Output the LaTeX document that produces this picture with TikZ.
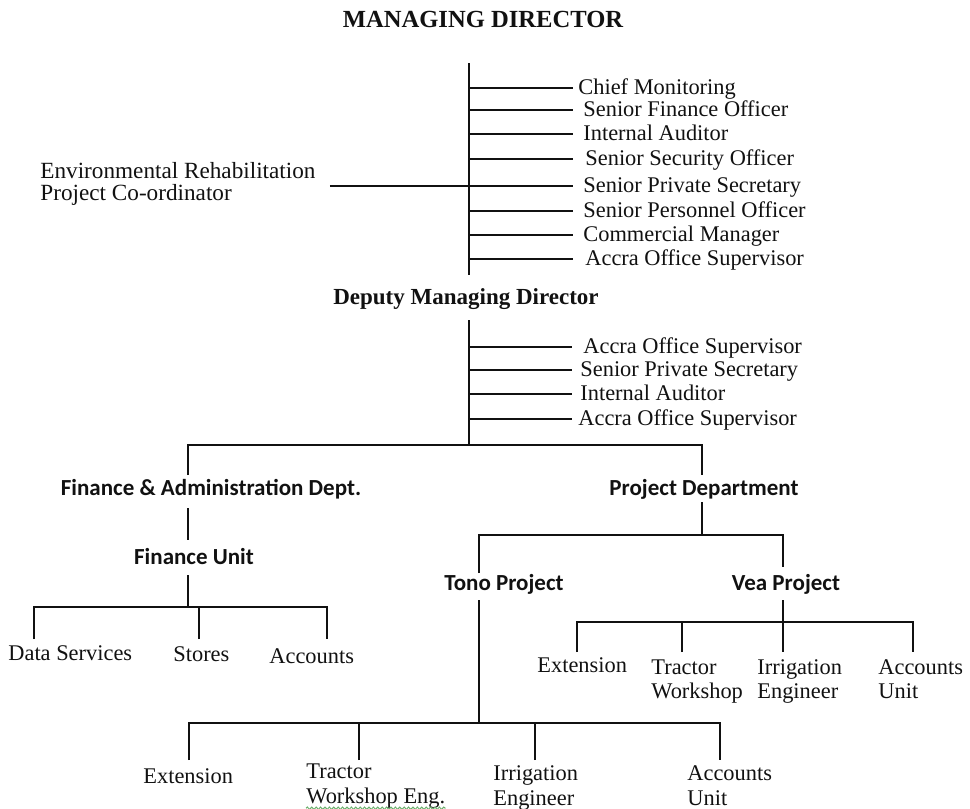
\documentclass[tikz,border=0pt]{standalone}
\usepackage{fontspec}
\setmainfont{Liberation Serif}
\newfontfamily\calfont{Carlito}
\usetikzlibrary{decorations.pathmorphing}
\definecolor{chartInk}{HTML}{111111}
\definecolor{spellGreen}{HTML}{6AAE6A}
\tikzset{
  link/.style={draw=chartInk, line width=0.9pt},
  post/.style={inner sep=0pt, anchor=base west, text=chartInk,
               font=\fontsize{11.2}{12}\selectfont},
  postL/.style={post, align=left},
  head/.style={inner sep=0pt, anchor=base, text=chartInk,
               font=\bfseries\fontsize{11.5}{13}\selectfont},
  dept/.style={inner sep=0pt, anchor=base, text=chartInk,
               font=\calfont\bfseries\fontsize{11.5}{13}\selectfont},
  squiggle/.style={draw=spellGreen, line width=0.5pt, decorate,
                   decoration={snake, amplitude=0.6pt, segment length=2.2pt}},
}
\begin{document}
\begin{tikzpicture}[x=0.5pt, y=-0.5pt]
  \path[use as bounding box] (0,0) rectangle (970,809);
  \node[head, font=\bfseries\fontsize{12.3}{14}\selectfont] (md) at (483,27) {MANAGING DIRECTOR};
  \coordinate (mdTop) at (469,63);
  \coordinate (mdBot) at (469,275);
  \coordinate (mdEnd) at (573,0);
  \draw[link] (mdTop) -- (mdBot);
  \foreach \i/\y/\x/\txt in {1/88/578/Chief Monitoring, 2/110/583/Senior Finance Officer,
      3/134/583/Internal Auditor, 4/159/585/Senior Security Officer,
      5/186/583/Senior Private Secretary, 6/211/583/Senior Personnel Officer,
      7/235/583/Commercial Manager, 8/259/585/Accra Office Supervisor}{
    \coordinate (mdb\i) at (469,\y);
    \node[post] (mdr\i) at (\x,\y+6) {\txt};
    \draw[link] (mdb\i) -- (mdb\i -| mdEnd);
  }
  \node[postL, font=\fontsize{11.6}{11}\selectfont] (env) at (40,200)
    {Environmental Rehabilitation\\Project Co-ordinator};
  \draw[link, shorten <=7pt] (env.east |- mdb5) -- (mdb5);

  \node[head] (dmd) at (466,304) {Deputy Managing Director};
  \coordinate (dmTop) at (469,320);
  \coordinate (dmBar) at (469,445);
  \coordinate (dmEnd) at (572,0);
  \draw[link] (dmTop) -- (dmBar);
  \foreach \i/\y/\x/\txt in {1/347/583/Accra Office Supervisor, 2/370/580/Senior Private Secretary,
      3/394/580/Internal Auditor, 4/419/578/Accra Office Supervisor}{
    \coordinate (dmb\i) at (469,\y);
    \node[post] (dmr\i) at (\x,\y+6) {\txt};
    \draw[link] (dmb\i) -- (dmb\i -| dmEnd);
  }

  \node[dept] (fad) at (211,495) {Finance \& Administration Dept.};
  \node[dept] (pd) at (704,495) {Project Department};
  \coordinate (fadTop) at (188,475);
  \coordinate (pdTop) at (702,475);
  \draw[link] (fadTop) -- (fadTop |- dmBar) -- (pdTop |- dmBar) -- (pdTop);

  \node[dept] (fu) at (194,564) {Finance Unit};
  \coordinate (fadLow) at (188,508);
  \coordinate (fuTop) at (188,540);
  \coordinate (fuLow) at (188,575);
  \coordinate (fuBar) at (188,607);
  \draw[link] (fadLow) -- (fuTop);
  \draw[link] (fuLow) -- (fuBar);
  \node[post] (ds) at (8,660) {Data Services};
  \node[post] (st) at (173,661) {Stores};
  \node[post] (ac) at (269,663) {Accounts};
  \coordinate (fl1) at (34,639);
  \coordinate (fl2) at (199,639);
  \coordinate (fl3) at (327,639);
  \draw[link] (fl1) |- (fuBar) -| (fl3);
  \draw[link] (fl2) -- (fl2 |- fuBar);

  \node[dept] (tono) at (504,590) {Tono Project};
  \node[dept] (vea) at (786,590) {Vea Project};
  \coordinate (pdLow) at (702,502);
  \coordinate (pdBar) at (702,535);
  \coordinate (tonoTop) at (479,573);
  \coordinate (veaTop) at (783,567);
  \draw[link] (pdLow) -- (pdBar);
  \draw[link] (tonoTop) -- (tonoTop |- pdBar) -- (veaTop |- pdBar) -- (veaTop);

  \node[post] (vext) at (537,672) {Extension};
  \node[postL] (vtw) at (651,698) {Tractor\\Workshop};
  \node[postL] (vie) at (757,698) {Irrigation\\Engineer};
  \node[postL] (vau) at (878,698) {Accounts\\Unit};
  \coordinate (veaLow) at (783,600);
  \coordinate (veaBar) at (783,622);
  \coordinate (vl1) at (577,652);
  \coordinate (vl2) at (682,652);
  \coordinate (vl3) at (783,652);
  \coordinate (vl4) at (913,652);
  \draw[link] (veaLow) -- (vl3);
  \draw[link] (vl1) |- (veaBar) -| (vl4);
  \draw[link] (vl2) -- (vl2 |- veaBar);

  \node[post] (text) at (143,783) {Extension};
  \node[postL, font=\fontsize{11.2}{12.5}\selectfont] (ttw) at (306,803) {Tractor\\Workshop Eng.};
  \node[postL, font=\fontsize{11.2}{12.5}\selectfont] (tie) at (493,805) {Irrigation\\Engineer};
  \node[postL, font=\fontsize{11.2}{12.5}\selectfont] (tau) at (687,805) {Accounts\\Unit};
  \coordinate (tonoLow) at (479,600);
  \coordinate (tonoBar) at (479,723);
  \coordinate (tl1) at (189,760);
  \coordinate (tl2) at (359,760);
  \coordinate (tl3) at (535,760);
  \coordinate (tl4) at (720,760);
  \draw[link] (tonoLow) -- (tonoBar);
  \draw[link] (tl1) |- (tonoBar) -| (tl4);
  \draw[link] (tl2) -- (tl2 |- tonoBar);
  \draw[link] (tl3) -- (tl3 |- tonoBar);
  \draw[squiggle] (ttw.south west) -- (ttw.south east);
\end{tikzpicture}
\end{document}
